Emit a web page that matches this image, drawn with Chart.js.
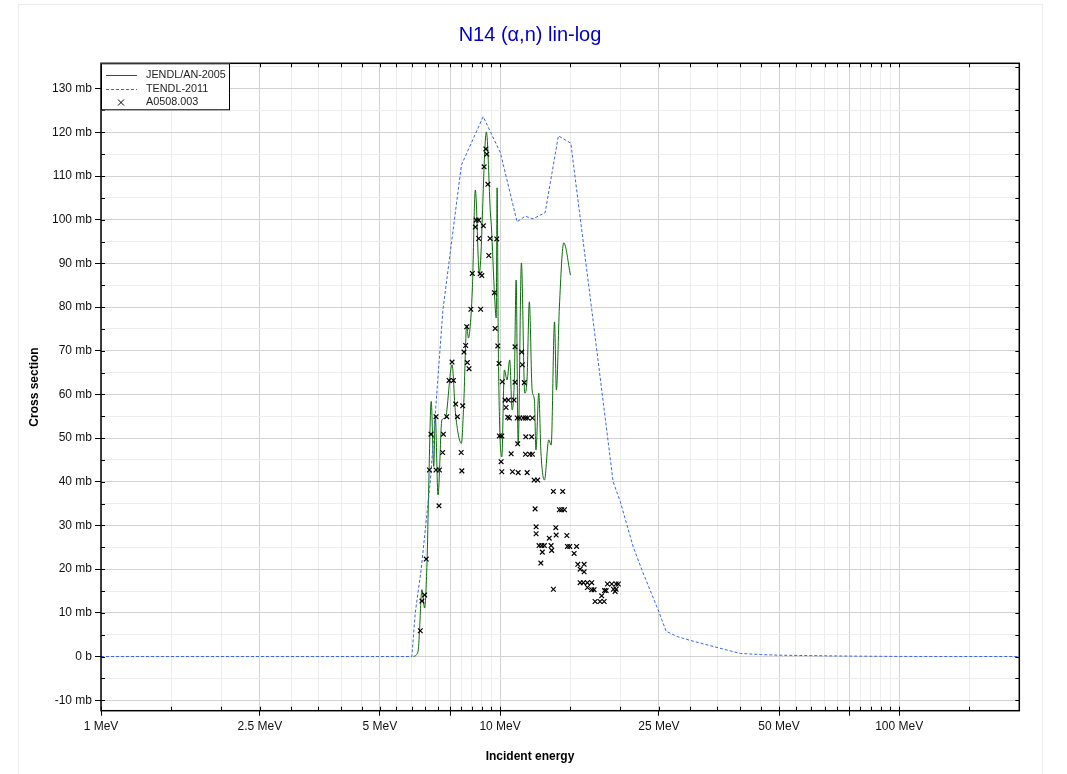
<!DOCTYPE html>
<html>
<head>
<meta charset="utf-8">
<script src="https://cdn.jsdelivr.net/npm/chart.js@4.4.1/dist/chart.umd.min.js"></script>
<style>
html,body{margin:0;padding:0;background:#fff;}
canvas{display:block;}
</style>
</head>
<body>
<canvas id="c" width="1067" height="774"></canvas>
<script>
// ---------- texts ----------
const chartTitle = 'N14 (α,n) lin-log';
const xAxisTitle = 'Incident energy';
const yAxisTitle = 'Cross section';
const seriesNames = ['JENDL/AN-2005', 'TENDL-2011', 'A0508.003'];

// ---------- JENDL/AN-2005 (energy MeV, cross section mb) ----------
const jendlE = [6.07,6.17,6.25,6.28,6.37,6.47,6.56,6.62,6.72,6.82,
  6.88,6.99,7.15,7.29,7.58,7.73,8.0,8.11,8.25,8.33,
  8.40,8.52,8.67,8.87,9.24,9.46,9.51,9.69,9.78,9.83,
  9.90,10.10,10.25,10.41,10.57,10.72,10.86,10.97,11.10,11.31,
  11.53,11.68,11.84,12.03,12.19,12.30,12.50,12.66,12.92,13.24,
  13.43,13.69,13.84,14.08,14.44,15.01];
const jendlXS = [0,0.4,2.3,5.7,15.3,11.1,21.4,37.5,58.4,43.5,
  55.3,37.0,54.2,54.6,66.8,55.8,48.8,58.1,75.9,72.9,
  74.8,83.9,106.8,87.7,120.1,101.3,98.6,82.3,77.5,107.3,
  70.2,45.7,65.6,63.3,67.9,56.5,63.8,86.2,48.4,90.1,
  60.3,63.3,81.2,61.0,58.7,47.3,60.3,46.6,40.4,49.6,
  48.4,76.6,61.0,80.0,94.7,87.3];

// ---------- TENDL-2011 ----------
const tendlE = [1,6.01,6.13,6.34,6.69,7.19,8.0,9.07,10.02,11.03,
  11.55,12.09,12.97,14.0,15.04,16.97,19.2,20.0,21.54,22.65,
  25.03,26.06,27.73,29.94,34.2,40.0,45.0,50.0,75.0,100.0,200.0];
const tendlXS = [0,0,10.0,19.8,40.4,79.3,112.5,123.6,115.3,99.5,
  100.8,100.2,101.6,119.2,117.5,79.4,40.0,35.5,25.2,19.9,
  10.1,5.8,4.6,3.7,2.3,0.7,0.45,0.3,0.1,0.02,0];

// ---------- EXFOR A0508.003 ----------
const exforE = [6.31,6.37,6.47,6.53,7.03,6.71,6.65,6.91,7.05,6.91,
  7.21,7.18,7.35,7.45,7.64,7.58,7.74,7.82,7.99,8.02,
  8.06,8.12,8.20,8.25,8.28,8.36,8.45,8.52,8.67,8.71,
  8.84,8.84,8.91,8.94,9.00,9.08,9.12,9.21,9.26,9.32,
  9.37,9.44,9.68,9.72,9.81,9.87,9.94,9.96,10.10,10.06,
  10.10,10.13,10.29,10.35,10.49,10.45,10.55,10.66,10.74,10.84,
  10.90,10.90,11.04,11.07,11.10,11.20,11.33,11.37,11.42,11.50,
  11.58,11.58,11.69,11.73,11.87,12.0,11.6,12.05,12.05,12.17,
  12.24,12.31,12.31,12.42,12.52,12.65,12.72,12.76,12.91,13.28,
  13.42,13.47,13.6,13.6,13.79,13.82,14.08,14.27,14.35,14.5,
  14.7,14.75,14.95,15.33,15.55,15.66,15.87,16.24,16.24,15.87,
  16.17,16.55,16.97,16.55,16.97,17.2,17.3,17.8,18.23,17.97,
  18.27,18.44,18.58,19.05,19.53,19.79,19.23,19.53,19.42];
const exforXS = [5.9,12.7,14.1,22.3,34.5,50.9,42.7,42.7,42.7,54.9,
  50.9,46.7,54.9,63.2,63.2,67.4,57.8,54.9,46.7,42.5,
  57.4,69.7,71.2,75.5,67.3,65.9,79.5,87.7,98.3,99.9,
  99.9,95.7,87.6,79.5,87.2,98.6,112.1,116.2,115.0,108.1,
  91.8,95.7,83.3,75.1,95.6,71.1,67.1,50.5,50.5,44.6,
  42.3,62.9,58.7,57.0,58.7,54.8,54.6,46.4,42.3,58.7,
  70.9,62.8,54.6,48.7,42.1,54.6,69.7,66.8,54.6,62.7,
  54.6,46.3,42.1,54.6,46.3,50.3,50.3,54.6,46.3,40.4,
  33.8,29.7,28.1,40.4,25.4,21.4,25.4,23.9,25.4,27.1,
  25.4,24.3,37.8,15.4,29.5,27.8,33.6,33.6,37.8,33.6,
  27.7,25.2,25.2,23.6,25.2,21.1,20.0,21.1,19.4,16.9,
  16.9,16.9,16.9,15.8,15.3,15.3,12.6,12.6,12.6,13.9,
  15.1,15.1,16.6,16.6,16.6,16.6,15.4,15.4,14.9];

// ---------- ticks ----------
const xLabeledTicks = [1, 2.5, 5, 10, 25, 50, 100];
const xTickLabels = ['1 MeV', '2.5 MeV', '5 MeV', '10 MeV', '25 MeV', '50 MeV', '100 MeV'];
const xSemiMajorTicks = [7.5, 75];
const xMinorTicks = [1.5, 2, 3, 3.5, 4, 4.5, 5.5, 6, 6.5, 7, 8, 8.5, 9, 9.5,
  15, 20, 30, 35, 40, 45, 55, 60, 65, 70, 80, 85, 90, 95, 150];
const yLabeledTicks = [-10, 0, 10, 20, 30, 40, 50, 60, 70, 80, 90, 100, 110, 120, 130];
const yTickLabels = ['-10 mb', '0 b', '10 mb', '20 mb', '30 mb', '40 mb', '50 mb', '60 mb',
  '70 mb', '80 mb', '90 mb', '100 mb', '110 mb', '120 mb', '130 mb'];
const yMinorTicks = [-5, 5, 15, 25, 35, 45, 55, 65, 75, 85, 95, 105, 115, 125, 135];

const xAllTicks = xLabeledTicks.concat(xSemiMajorTicks, xMinorTicks).sort((a, b) => a - b);
const yAllTicks = yLabeledTicks.concat(yMinorTicks).sort((a, b) => a - b);

const FONT = "'Liberation Sans', Arial, Helvetica, sans-serif";
Chart.defaults.font.family = FONT;
Chart.defaults.color = '#000';

const colJendl = '#0a6e0a';
const colTendl = '#3b66e8';

const toXY = (xs, ys) => xs.map((v, i) => ({x: v, y: ys[i]}));

const xIsMajor = v => xLabeledTicks.includes(v) || xSemiMajorTicks.includes(v);
const yIsMajor = v => yLabeledTicks.includes(v);

const decorPlugin = {
  id: 'decor',
  beforeDraw(chart) {
    const {ctx, width, height} = chart;
    ctx.save();
    ctx.fillStyle = '#fff';
    ctx.fillRect(0, 0, width, height);
    ctx.strokeStyle = '#ececec';
    ctx.lineWidth = 1;
    ctx.strokeRect(18.5, 4.5, 1024, height + 20);
    ctx.restore();
  },
  afterDatasetsDraw(chart) {
    const {ctx, chartArea: a, scales} = chart;
    ctx.save();
    ctx.strokeStyle = '#000';
    ctx.lineWidth = 1;
    ctx.beginPath();
    scales.x.ticks.forEach(t => {
      const px = Math.round(scales.x.getPixelForValue(t.value)) + 0.5;
      ctx.moveTo(px, a.bottom); ctx.lineTo(px, a.bottom - 4);
      ctx.moveTo(px, a.top); ctx.lineTo(px, a.top + 4);
    });
    scales.y.ticks.forEach(t => {
      const py = Math.round(scales.y.getPixelForValue(t.value)) + 0.5;
      ctx.moveTo(a.left, py); ctx.lineTo(a.left + 4, py);
      ctx.moveTo(a.right, py); ctx.lineTo(a.right - 4, py);
    });
    ctx.stroke();
    ctx.lineWidth = 1.5;
    ctx.strokeRect(a.left, a.top, a.right - a.left, a.bottom - a.top);
    ctx.restore();
  },
  afterDraw(chart) {
    const {ctx, chartArea: a} = chart;
    const lx = a.left, ly = a.top, lw = 129, lh = 47;
    ctx.save();
    ctx.fillStyle = '#fff';
    ctx.fillRect(lx, ly, lw, lh);
    ctx.strokeStyle = '#000';
    ctx.lineWidth = 1;
    ctx.strokeRect(lx + 0.5, ly + 0.5, lw - 1, lh - 1);
    const rows = [ly + 12, ly + 25.3, ly + 38.7];
    chart.data.datasets.forEach((ds, i) => {
      const ry = Math.round(rows[i]) + 0.5;
      ctx.save();
      ctx.strokeStyle = ds.borderColor;
      ctx.lineWidth = 1;
      if (ds.showLine === false) {
        const cx = lx + 20, r = 3;
        ctx.beginPath();
        ctx.moveTo(cx - r, ry - r); ctx.lineTo(cx + r, ry + r);
        ctx.moveTo(cx - r, ry + r); ctx.lineTo(cx + r, ry - r);
        ctx.stroke();
      } else {
        ctx.setLineDash(ds.borderDash || []);
        ctx.beginPath();
        ctx.moveTo(lx + 5, ry); ctx.lineTo(lx + 36, ry);
        ctx.stroke();
      }
      ctx.restore();
      ctx.fillStyle = '#222';
      ctx.font = '10.8px ' + FONT;
      ctx.textBaseline = 'middle';
      ctx.textAlign = 'left';
      ctx.fillText(ds.label, lx + 45, ry);
    });
    ctx.restore();
  }
};

new Chart(document.getElementById('c'), {
  type: 'line',
  data: {
    datasets: [
      {
        label: seriesNames[0],
        data: toXY(jendlE, jendlXS),
        borderColor: colJendl,
        backgroundColor: colJendl,
        borderWidth: 1,
        pointRadius: 0,
        cubicInterpolationMode: 'monotone',
        fill: false,
        order: 2
      },
      {
        label: seriesNames[1],
        data: toXY(tendlE, tendlXS),
        borderColor: colTendl,
        backgroundColor: colTendl,
        borderWidth: 1,
        borderDash: [3, 2],
        pointRadius: 0,
        tension: 0,
        fill: false,
        order: 1
      },
      {
        label: seriesNames[2],
        data: toXY(exforE, exforXS),
        showLine: false,
        pointStyle: 'crossRot',
        pointRadius: 3.3,
        pointBorderWidth: 1.2,
        borderColor: '#000',
        backgroundColor: '#000',
        order: 0
      }
    ]
  },
  options: {
    responsive: false,
    devicePixelRatio: 1,
    animation: false,
    layout: {padding: {left: 0, right: 7, top: 0, bottom: 0}},
    plugins: {
      legend: {display: false},
      tooltip: {enabled: false},
      title: {
        display: true,
        text: chartTitle,
        color: '#0000cc',
        font: {size: 20, weight: 'normal', family: FONT},
        padding: {top: 23, bottom: 16.3}
      },
      subtitle: {
        display: true,
        position: 'bottom',
        text: xAxisTitle,
        color: '#000',
        font: {size: 12, weight: 'bold', family: FONT},
        padding: {top: 4, bottom: 9.8}
      }
    },
    scales: {
      x: {
        type: 'logarithmic',
        min: 1,
        max: 200,
        afterBuildTicks: s => { s.ticks = xAllTicks.map(v => ({value: v})); },
        afterFit: s => { s.height = 35.1; },
        ticks: {
          autoSkip: false,
          maxRotation: 0,
          minRotation: 0,
          padding: 4,
          font: {size: 12, family: FONT},
          color: '#111',
          callback: v => { const k = xLabeledTicks.indexOf(v); return k >= 0 ? xTickLabels[k] : ''; }
        },
        grid: {
          color: c => xIsMajor(c.tick.value) ? '#d2d2d2' : '#ededed',
          lineWidth: 1,
          drawTicks: true,
          tickLength: 5,
          tickColor: c => xIsMajor(c.tick.value) ? '#000' : 'rgba(0,0,0,0)'
        },
        border: {display: false}
      },
      y: {
        type: 'linear',
        position: 'left',
        min: -12.4,
        max: 135.8,
        afterBuildTicks: s => { s.ticks = yAllTicks.map(v => ({value: v})); },
        afterFit: s => { s.width = 101; },
        ticks: {
          autoSkip: false,
          padding: 3,
          font: {size: 12, family: FONT},
          color: '#111',
          callback: v => { const k = yLabeledTicks.indexOf(v); return k >= 0 ? yTickLabels[k] : ''; }
        },
        grid: {
          color: c => yIsMajor(c.tick.value) ? '#d2d2d2' : '#ededed',
          lineWidth: 1,
          drawTicks: true,
          tickLength: 6,
          tickColor: c => yIsMajor(c.tick.value) ? '#000' : 'rgba(0,0,0,0)'
        },
        border: {display: false},
        title: {
          display: true,
          text: yAxisTitle,
          font: {size: 12, weight: 'bold', family: FONT},
          color: '#000',
          padding: {top: 27.8, bottom: 0}
        }
      },
      yRight: {
        type: 'linear',
        position: 'right',
        display: true,
        afterFit: s => { s.width = 40.7; },
        ticks: {display: false},
        grid: {display: false, drawTicks: false},
        border: {display: false}
      }
    }
  },
  plugins: [decorPlugin]
});
</script>
</body>
</html>
